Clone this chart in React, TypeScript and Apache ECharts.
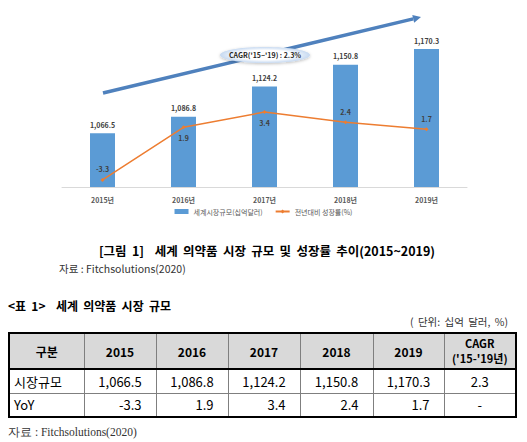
import * as echarts from 'echarts';
import { useEffect, useRef } from 'react';

const years = ['2015', '2016', '2017', '2018', '2019'];
const yearLabels = ['2015년', '2016년', '2017년', '2018년', '2019년'];
const marketSize = [1066.5, 1086.8, 1124.2, 1150.8, 1170.3];
const yoyGrowth = [-3.3, 1.9, 3.4, 2.4, 1.7];
const cagrValue = 2.3;

const FONT = '"Noto Sans CJK KR", "Noto Sans", sans-serif';

const fmt = (v: number) =>
  v.toLocaleString('en-US', { maximumFractionDigits: 1, minimumFractionDigits: 1 });

const Chart = () => {
  const chartRef = useRef<HTMLDivElement>(null);

  useEffect(() => {
    if (!chartRef.current) return;
    const chart = echarts.init(chartRef.current, undefined, { renderer: 'svg' });

    // 화살표 (CAGR 추세)
    const x1 = 103;
    const y1 = 93;
    const x2 = 421;
    const y2 = 17;
    const len = Math.hypot(x2 - x1, y2 - y1);
    const ux = (x2 - x1) / len;
    const uy = (y2 - y1) / len;
    const bx = x2 - ux * 8;
    const by = y2 - uy * 8;

    const option = {
      animation: false,
      grid: { bottom: 35, left: 62, right: 60, top: 25 },
      legend: {
        bottom: 2,
        data: [
          { icon: 'rect', name: '세계시장규모(십억달러)' },
          { name: '전년대비 성장률(%)' },
        ],
        itemGap: 12,
        itemHeight: 5,
        itemWidth: 14,
        left: 'center',
        textStyle: { color: '#595959', fontFamily: FONT, fontSize: 7 },
      },
      xAxis: {
        axisLabel: { color: '#595959', fontFamily: FONT, fontSize: 7, fontWeight: 'bold', margin: 9 },
        axisLine: { lineStyle: { color: '#d9d9d9' }, onZero: false },
        axisTick: { show: false },
        data: yearLabels,
        type: 'category',
      },
      yAxis: [
        { max: 1200, min: 1000, show: false, splitLine: { show: false }, type: 'value' },
        { interval: 4, max: 12, min: -4, show: false, splitLine: { show: false }, type: 'value' },
      ],
      series: [
        {
          barWidth: 25,
          data: marketSize,
          itemStyle: { color: '#5b9bd5' },
          label: {
            color: '#404040',
            fontFamily: FONT,
            fontSize: 7,
            fontWeight: 'bold',
            formatter: (p: { value: number }) => fmt(p.value),
            position: 'top',
            show: true,
          },
          name: '세계시장규모(십억달러)',
          type: 'bar',
        },
        {
          data: yoyGrowth.map((v, i) => ({
            label: { position: i === 1 || i === 2 ? 'bottom' : 'top' },
            value: v,
          })),
          itemStyle: { color: '#ed7d31' },
          label: {
            color: '#404040',
            distance: 5,
            fontFamily: FONT,
            fontSize: 7,
            fontWeight: 'bold',
            show: true,
          },
          lineStyle: { color: '#ed7d31', width: 1.5 },
          name: '전년대비 성장률(%)',
          symbol: 'diamond',
          symbolSize: 4,
          type: 'line',
          yAxisIndex: 1,
        },
      ],
      graphic: [
        {
          shape: { x1, x2: bx, y1, y2: by },
          style: { lineWidth: 3.5, stroke: '#4f81bd' },
          type: 'line',
        },
        {
          shape: {
            points: [
              [x2, y2],
              [bx - uy * 4, by + ux * 4],
              [bx + uy * 4, by - ux * 4],
            ],
          },
          style: { fill: '#4f81bd' },
          type: 'polygon',
        },
        {
          shape: { cx: 265, cy: 55, rx: 45, ry: 8 },
          style: {
            fill: {
              colorStops: [
                { color: '#ffffff', offset: 0 },
                { color: '#ffffff', offset: 0.6 },
                { color: '#c6d9f1', offset: 1 },
              ],
              r: 0.5,
              type: 'radial',
              x: 0.5,
              y: 0.5,
            },
            shadowBlur: 3,
            shadowColor: 'rgba(0,0,0,0.25)',
            shadowOffsetY: 1,
          },
          type: 'ellipse',
        },
        {
          style: {
            align: 'center',
            fill: '#262626',
            font: `bold 7px ${FONT}`,
            text: `CAGR('15~'19) : ${cagrValue}%`,
            verticalAlign: 'middle',
          },
          type: 'text',
          x: 265,
          y: 55,
        },
      ],
    };

    chart.setOption(option);
    return () => {
      chart.dispose();
    };
  }, []);

  return <div ref={chartRef} style={{ height: 222, left: 0, position: 'absolute', top: 0, width: 527 }} />;
};

const cellBase = {
  borderLeft: '1px solid #7f7f7f',
  fontFamily: FONT,
  padding: 0,
};

const colWidths = [75, 72, 72, 72, 73, 71, 72];

const App = () => (
  <div style={{ background: '#fff', height: 442, left: 0, overflow: 'hidden', position: 'absolute', top: 0, width: 527 }}>
    <Chart />
    <div
      style={{
        color: '#000',
        fontFamily: FONT,
        fontSize: 12.5,
        fontWeight: 'bold',
        left: 0,
        position: 'absolute',
        textAlign: 'center',
        top: 241,
        whiteSpace: 'pre',
        width: 534,
        wordSpacing: 2.5,
      }}
    >
      {`[그림 1]  세계 의약품 시장 규모 및 성장률 추이(${years[0]}~${years[years.length - 1]})`}
    </div>
    <div style={{ color: '#333', fontFamily: FONT, fontSize: 10.5, left: 59, position: 'absolute', top: 261 }}>
      자료 : Fitchsolutions(2020)
    </div>
    <div
      style={{
        color: '#000',
        fontFamily: FONT,
        fontSize: 12,
        fontWeight: 'bold',
        left: 8,
        position: 'absolute',
        top: 297,
        whiteSpace: 'pre',
        wordSpacing: 2.5,
      }}
    >
      {'<표 1>  세계 의약품 시장 규모'}
    </div>
    <div
      style={{
        color: '#333',
        fontFamily: FONT,
        fontSize: 10.5,
        position: 'absolute',
        right: 19,
        top: 314,
        whiteSpace: 'pre',
        wordSpacing: 2,
      }}
    >
      ( 단위: 십억 달러, %)
    </div>
    <table
      style={{
        border: '2px solid #000',
        borderCollapse: 'collapse',
        color: '#000',
        left: 8,
        position: 'absolute',
        tableLayout: 'fixed',
        top: 332,
        width: 507,
      }}
    >
      <colgroup>
        {colWidths.map((w, i) => (
          <col key={i} style={{ width: w }} />
        ))}
      </colgroup>
      <tbody>
        <tr style={{ background: '#d9d9d9', height: 36 }}>
          <td style={{ ...cellBase, borderBottom: '2px solid #000', fontSize: 12, fontWeight: 'bold', textAlign: 'center' }}>
            구분
          </td>
          {years.map((y) => (
            <td
              key={y}
              style={{ ...cellBase, borderBottom: '2px solid #000', fontSize: 12, fontWeight: 'bold', textAlign: 'center' }}
            >
              {y}
            </td>
          ))}
          <td
            style={{
              ...cellBase,
              borderBottom: '2px solid #000',
              fontSize: 11,
              fontWeight: 'bold',
              lineHeight: '15px',
              textAlign: 'center',
            }}
          >
            <div>CAGR</div>
            <div>('15-'19년)</div>
          </td>
        </tr>
        <tr style={{ height: 24 }}>
          <td style={{ ...cellBase, borderBottom: '1px solid #7f7f7f', fontSize: 13, paddingLeft: 4 }}>시장규모</td>
          {marketSize.map((v, i) => (
            <td key={i} style={{ ...cellBase, borderBottom: '1px solid #7f7f7f', fontSize: 13, textAlign: 'center' }}>
              {fmt(v)}
            </td>
          ))}
          <td style={{ ...cellBase, borderBottom: '1px solid #7f7f7f', fontSize: 13, textAlign: 'center' }}>{cagrValue}</td>
        </tr>
        <tr style={{ height: 24 }}>
          <td style={{ ...cellBase, fontSize: 13, paddingLeft: 4 }}>YoY</td>
          {yoyGrowth.map((v, i) => (
            <td key={i} style={{ ...cellBase, fontSize: 13, paddingRight: 14, textAlign: 'right' }}>
              {v.toFixed(1)}
            </td>
          ))}
          <td style={{ ...cellBase, fontSize: 13, textAlign: 'center' }}>-</td>
        </tr>
      </tbody>
    </table>
    <div
      style={{
        color: '#333',
        fontFamily: '"Liberation Serif", serif',
        fontSize: 11.5,
        left: 8,
        position: 'absolute',
        top: 425,
      }}
    >
      자료 : Fitchsolutions(2020)
    </div>
  </div>
);

export default App;
